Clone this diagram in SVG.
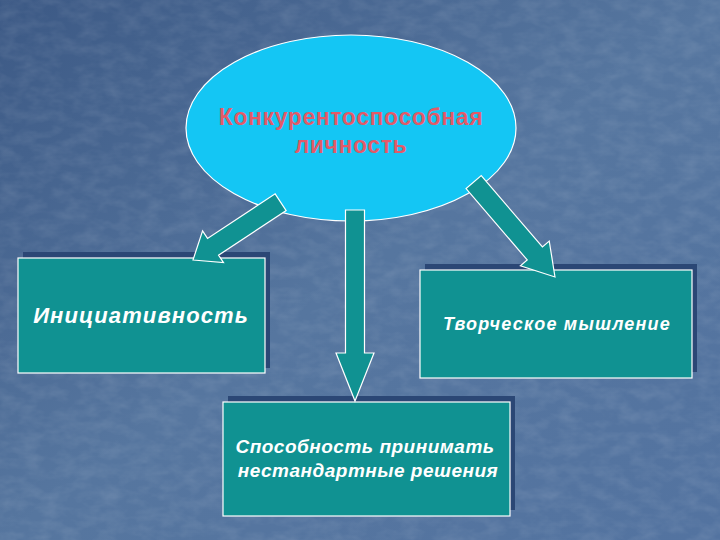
<svg xmlns="http://www.w3.org/2000/svg" width="720" height="540" viewBox="0 0 720 540">
<defs>
<linearGradient id="bg" x1="0" y1="0" x2="1" y2="1">
<stop offset="0" stop-color="#3c5985"/>
<stop offset="0.5" stop-color="#56769f"/>
<stop offset="1" stop-color="#5373a0"/>
</linearGradient>
<filter id="tex" x="0" y="0" width="100%" height="100%">
<feTurbulence type="fractalNoise" baseFrequency="0.05 0.09" numOctaves="3" seed="3" result="n"/>
<feColorMatrix in="n" type="matrix" values="0 0 0 0 1  0 0 0 0 1  0 0 0 0 1  0 0 0 0.5 -0.18"/>
</filter>
</defs>
<style>
.box{fill:#109292;stroke:#ffffff;stroke-width:1.2}
.shadow{fill:#2b4775}
.arrow{fill:#109292;stroke:#ffffff;stroke-width:1.2;stroke-linejoin:miter}
.lbl{font-family:"Liberation Sans",Arial,sans-serif;font-weight:bold;font-style:italic;fill:#ffffff;text-anchor:middle}
.title{font-family:"Liberation Sans",Arial,sans-serif;font-weight:bold;fill:#e35a68;text-anchor:middle;font-size:23px;letter-spacing:0.6px}
</style>
<rect width="720" height="540" fill="url(#bg)"/>
<rect width="720" height="540" filter="url(#tex)" opacity="0.35"/>

<g id="node-top">
<ellipse cx="351" cy="128" rx="165" ry="93" fill="#14c6f4" stroke="#ffffff" stroke-width="1.2"/>
<text class="title" x="351" y="125">Конкурентоспособная</text>
<text class="title" x="351" y="153">личность</text>
</g>

<g id="node-left">
<rect class="shadow" x="23" y="252" width="247" height="116"/>
<rect class="box" x="18" y="258" width="247" height="115"/>
<text class="lbl" x="141" y="323" font-size="22" letter-spacing="1.1">Инициативность</text>
</g>

<g id="node-right">
<rect class="shadow" x="425" y="264" width="272" height="108"/>
<rect class="box" x="420" y="270" width="272" height="108"/>
<text class="lbl" x="557" y="330" font-size="18" letter-spacing="1.2">Творческое мышление</text>
</g>

<g id="node-bottom">
<rect class="shadow" x="228" y="396" width="287" height="114"/>
<rect class="box" x="223" y="402" width="287" height="114"/>
<text class="lbl" x="365" y="453" font-size="19" letter-spacing="0.5">Способность принимать</text>
<text class="lbl" x="368" y="477" font-size="19" letter-spacing="0.5">нестандартные решения</text>
</g>

<g id="connectors">
<polygon class="arrow" transform="translate(193,260) rotate(146.6)" points="0,0 -24,-19 -24,-10 -105,-10 -105,10 -24,10 -24,19"/>
<polygon class="arrow" transform="translate(355,401) rotate(90)" points="0,0 -48,-19 -48,-9.5 -191,-9.5 -191,9.5 -48,9.5 -48,19"/>
<polygon class="arrow" transform="translate(555,277) rotate(49.4)" points="0,0 -31,-19 -31,-10 -125,-10 -125,10 -31,10 -31,19"/>
</g>
</svg>
